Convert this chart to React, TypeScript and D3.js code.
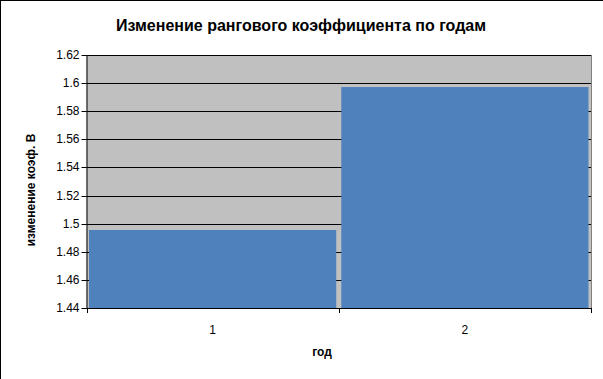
import React from "react";
import * as d3 from "d3";

const categories = ["1", "2"];
const values = [1.4955, 1.5972];
const yTicks = [1.44, 1.46, 1.48, 1.5, 1.52, 1.54, 1.56, 1.58, 1.6, 1.62];

const W = 603;
const H = 379;
const FONT = "'Liberation Sans', Arial, sans-serif";

export default function App() {
  const left = 86.5;
  const right = 591;
  const top = 55;
  const bottom = 308;

  const x = d3
    .scaleBand<string>()
    .domain(categories)
    .range([left, right])
    .paddingInner(0.02)
    .paddingOuter(0.01);
  const y = d3.scaleLinear().domain([1.44, 1.62]).range([bottom, top]);

  const bandStep = (right - left) / categories.length;
  const boundaries = d3.range(categories.length + 1).map((i) => left + i * bandStep);

  return (
    <div style={{ position: "absolute", left: 0, top: 0 }}>
      <svg width={W} height={H} style={{ display: "block", background: "#fff" }}>
        <rect x={0} y={0} width={W} height={H} fill="#fff" />
        {/* outer frame */}
        <line x1={0.5} y1={0} x2={0.5} y2={H} stroke="#000" strokeWidth={1} />
        <line x1={0} y1={0.5} x2={W} y2={0.5} stroke="#000" strokeWidth={1} />

        <text
          x={301}
          y={31}
          textAnchor="middle"
          fontFamily={FONT}
          fontWeight="bold"
          fontSize={16}
          fill="#000"
        >
          Изменение рангового коэффициента по годам
        </text>

        {/* plot area */}
        <rect x={left} y={top} width={right - left} height={bottom - top} fill="#c0c0c0" />
        {yTicks.map((t) => (
          <line
            key={"g" + t}
            x1={left}
            x2={right}
            y1={Math.round(y(t)) + 0.5}
            y2={Math.round(y(t)) + 0.5}
            stroke="#000"
            strokeWidth={1}
          />
        ))}
        <line x1={right + 0.5} x2={right + 0.5} y1={top} y2={bottom} stroke="#808080" strokeWidth={1} />

        {categories.map((c, i) => (
          <rect
            key={c}
            x={x(c)}
            y={y(values[i])}
            width={x.bandwidth()}
            height={bottom - y(values[i])}
            fill="#4f81bd"
          />
        ))}

        {/* y axis */}
        <line x1={left + 0.5} x2={left + 0.5} y1={top} y2={bottom + 1} stroke="#000" strokeWidth={1} />
        {yTicks.map((t) => (
          <g key={"t" + t}>
            <line
              x1={left - 5}
              x2={left}
              y1={Math.round(y(t)) + 0.5}
              y2={Math.round(y(t)) + 0.5}
              stroke="#000"
            />
            <text
              x={left - 7}
              y={y(t) + 4}
              textAnchor="end"
              fontFamily={FONT}
              fontSize={12}
              fill="#000"
            >
              {d3.format("")(t)}
            </text>
          </g>
        ))}

        {/* x axis */}
        <line x1={left} x2={right + 1} y1={bottom + 0.5} y2={bottom + 0.5} stroke="#000" strokeWidth={1} />
        {boundaries.map((b, i) => (
          <line
            key={"xb" + i}
            x1={Math.round(b) + 0.5}
            x2={Math.round(b) + 0.5}
            y1={bottom}
            y2={bottom + 5}
            stroke="#000"
          />
        ))}
        {categories.map((c) => (
          <text
            key={"xl" + c}
            x={(x(c) as number) + x.bandwidth() / 2}
            y={334}
            textAnchor="middle"
            fontFamily={FONT}
            fontSize={12}
            fill="#000"
          >
            {c}
          </text>
        ))}

        <text
          x={322}
          y={356}
          textAnchor="middle"
          fontFamily={FONT}
          fontWeight="bold"
          fontSize={12}
          fill="#000"
        >
          год
        </text>
        <text
          transform={`translate(35, 190) rotate(-90)`}
          textAnchor="middle"
          fontFamily={FONT}
          fontWeight="bold"
          fontSize={12}
          fill="#000"
        >
          изменение коэф. В
        </text>
      </svg>
    </div>
  );
}
